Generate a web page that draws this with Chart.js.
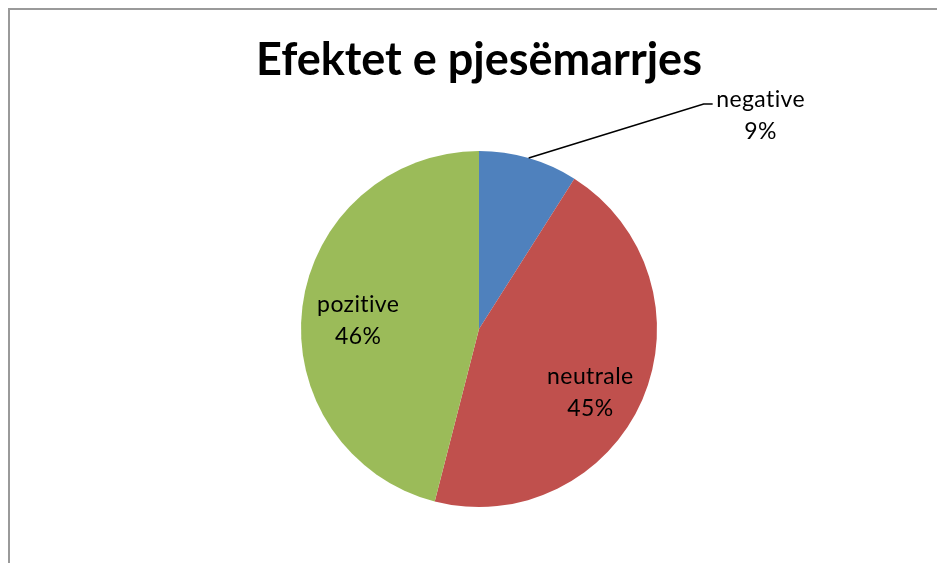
<!DOCTYPE html>
<html>
<head>
<meta charset="utf-8">
<script src="https://cdn.jsdelivr.net/npm/chart.js@4/dist/chart.umd.min.js"></script>
<style>
html,body{margin:0;padding:0;background:#fff;}
#wrap{width:937px;height:563px;position:relative;}
</style>
</head>
<body>
<div id="wrap"><canvas id="c" width="937" height="563"></canvas></div>
<script>
const chartTitle = "Efektet e pjesëmarrjes";
const categories = ["negative", "neutrale", "pozitive"];
const values = [9, 45, 46];
const percentLabels = ["9%", "45%", "46%"];
const colors = ["#4F81BD", "#C0504D", "#9BBB59"];

const FONT = "Lato, 'Open Sans', sans-serif";

const framePlugin = {
  id: 'frame',
  beforeDraw(chart) {
    const ctx = chart.ctx;
    ctx.save();
    ctx.fillStyle = '#fff';
    ctx.fillRect(0, 0, chart.width, chart.height);
    ctx.strokeStyle = '#9a9a9a';
    ctx.lineWidth = 2;
    ctx.strokeRect(9, 9, chart.width + 50, chart.height + 50);
    ctx.restore();
  }
};

const labelPlugin = {
  id: 'sliceLabels',
  afterDatasetsDraw(chart) {
    const ctx = chart.ctx;
    const meta = chart.getDatasetMeta(0);
    ctx.save();
    ctx.fillStyle = '#000';
    ctx.font = "23px " + FONT;
    if ('letterSpacing' in ctx) ctx.letterSpacing = '0.4px';
    ctx.textAlign = 'center';
    ctx.textBaseline = 'middle';
    const lh = 32;
    meta.data.forEach((arc, i) => {
      const p = arc.getProps(['x', 'y', 'startAngle', 'endAngle', 'outerRadius'], true);
      const mid = (p.startAngle + p.endAngle) / 2;
      const r = p.outerRadius;
      if (i === 0) {
        const sx = p.x + r * Math.cos(mid);
        const sy = p.y + r * Math.sin(mid);
        const elbowX = sx + 175, elbowY = sy - 54;
        ctx.strokeStyle = '#000';
        ctx.lineWidth = 1.6;
        ctx.beginPath();
        ctx.moveTo(sx, sy);
        ctx.lineTo(elbowX, elbowY);
        ctx.lineTo(elbowX + 9, elbowY);
        ctx.stroke();
        const tx = elbowX + 57;
        ctx.fillText(categories[i], tx, elbowY - 4);
        ctx.fillText(percentLabels[i], tx, elbowY - 4 + lh);
      } else {
        const f = i === 1 ? 0.72 : 0.68;
        const a = i === 1 ? mid + 0.11 : mid - 0.06;
        const cx = p.x + r * f * Math.cos(a);
        const cy = p.y + r * f * Math.sin(a);
        ctx.fillText(categories[i], cx, cy - lh / 2);
        ctx.fillText(percentLabels[i], cx, cy + lh / 2);
      }
    });
    ctx.restore();
  }
};

new Chart(document.getElementById('c'), {
  type: 'pie',
  data: {
    labels: categories,
    datasets: [{
      data: values,
      backgroundColor: colors,
      borderWidth: 0
    }]
  },
  options: {
    responsive: false,
    animation: false,
    layout: { padding: { top: 0, bottom: 56, left: 21, right: 0 } },
    plugins: {
      legend: { display: false },
      tooltip: { enabled: false },
      title: {
        display: true,
        text: chartTitle,
        color: '#000',
        font: { family: FONT, size: 45, weight: 'bold', lineHeight: 1.2 },
        padding: { top: 33, bottom: 64 }
      }
    }
  },
  plugins: [framePlugin, labelPlugin]
});
</script>
</body>
</html>
